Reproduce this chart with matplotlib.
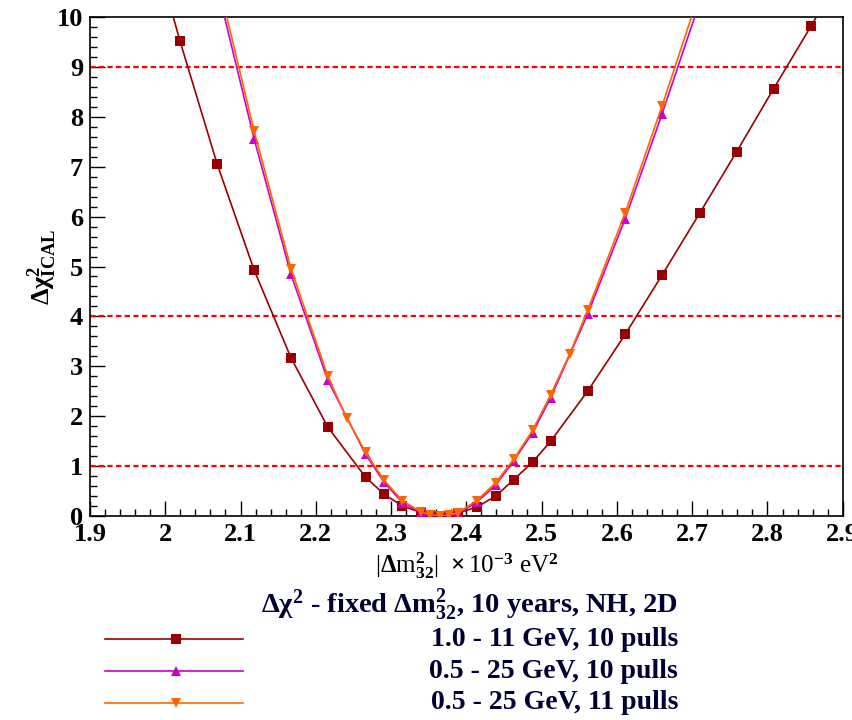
import matplotlib
matplotlib.use("Agg")
import matplotlib.pyplot as plt
from matplotlib.lines import Line2D
from matplotlib.ticker import MultipleLocator

plt.rcParams['font.family'] = ['Liberation Serif', 'DejaVu Serif']
plt.rcParams['font.weight'] = 'bold'
plt.rcParams['mathtext.fontset'] = 'custom'
plt.rcParams['mathtext.rm'] = 'Liberation Serif:bold'
plt.rcParams['mathtext.it'] = 'Liberation Serif:italic:bold'
plt.rcParams['mathtext.bf'] = 'Liberation Serif:bold'
plt.rcParams['mathtext.default'] = 'rm'

# ---------------- data ----------------
x_a = [1.970, 2.0195, 2.069, 2.118, 2.167, 2.216, 2.266, 2.2905, 2.315, 2.340, 2.352,
       2.365, 2.377, 2.389, 2.414, 2.439, 2.463, 2.488, 2.512, 2.561, 2.611, 2.660,
       2.710, 2.759, 2.808, 2.858, 2.907]
y_a = [12.2, 9.52, 7.05, 4.93, 3.17, 1.78, 0.78, 0.44, 0.20, 0.07, 0.02,
       0.0, 0.01, 0.06, 0.18, 0.40, 0.73, 1.08, 1.50, 2.50, 3.64, 4.83,
       6.07, 7.30, 8.56, 9.82, 11.1]

x_b = [2.069, 2.118, 2.167, 2.216, 2.266, 2.2905, 2.315, 2.340, 2.352, 2.365, 2.377,
       2.389, 2.414, 2.439, 2.463, 2.488, 2.512, 2.561, 2.611, 2.660, 2.710]
y_b = [10.6, 7.56, 4.84, 2.72, 1.24, 0.68, 0.27, 0.06, 0.01, 0.0, 0.01,
       0.05, 0.28, 0.62, 1.11, 1.67, 2.37, 4.04, 5.96, 8.06, 10.3]

x_c = [2.069, 2.118, 2.167, 2.216, 2.241, 2.266, 2.2905, 2.315, 2.340, 2.352, 2.365,
       2.377, 2.389, 2.414, 2.439, 2.463, 2.488, 2.512, 2.537, 2.561, 2.611, 2.660, 2.710]
y_c = [10.8, 7.72, 4.96, 2.80, 1.96, 1.28, 0.72, 0.31, 0.08, 0.03, 0.0,
       0.02, 0.07, 0.31, 0.67, 1.14, 1.72, 2.43, 3.24, 4.12, 6.08, 8.22, 10.5]

ref_levels = [1, 4, 9]

x_ticks = [1.9, 2.0, 2.1, 2.2, 2.3, 2.4, 2.5, 2.6, 2.7, 2.8, 2.9]
x_ticklabels = ["1.9", "2", "2.1", "2.2", "2.3", "2.4", "2.5", "2.6", "2.7", "2.8", "2.9"]
y_ticks = list(range(11))

labels = ["1.0 - 11 GeV, 10 pulls", "0.5 - 25 GeV, 10 pulls", "0.5 - 25 GeV, 11 pulls"]
legend_title = r"$\Delta\chi^{2}$ - fixed $\Delta$m$^{2}_{32}$, 10 years, NH, 2D"

c_a = "#990000"
c_b = "#cc00cc"
c_c = "#ff6600"

# ---------------- figure ----------------
fig = plt.figure(figsize=(8.53, 7.2), dpi=100)
ax = fig.add_axes([0.1055, 0.2833, 0.8825, 0.6931])

ax.plot(x_a, y_a, color=c_a, lw=1.2, marker='s', ms=7, mew=0, zorder=3)
ax.plot(x_b, y_b, color=c_b, lw=1.2, marker='^', ms=7.5, mew=0, zorder=3)
ax.plot(x_c, y_c, color=c_c, lw=1.2, marker='v', ms=7.5, mew=0, zorder=4)

for lv in ref_levels:
    ax.axhline(lv, color='#ff0000', lw=1.6, dashes=(2.4, 1.5), zorder=2)

ax.set_xlim(1.9, 2.9)
ax.set_ylim(0, 10)
ax.xaxis.set_minor_locator(MultipleLocator(0.02))
ax.yaxis.set_minor_locator(MultipleLocator(0.2))
ax.tick_params(which='both', direction='in', top=False, right=False, width=1.0)
ax.tick_params(which='major', length=10.5, labelsize=19, pad=5)
ax.tick_params(which='minor', length=5.2)
ax.set_xticks(x_ticks)
ax.set_xticklabels(x_ticklabels, fontweight='bold')
ax.set_yticks(y_ticks)
ax.set_yticklabels([str(i) for i in y_ticks], fontweight='bold')
for sp in ax.spines.values():
    sp.set_linewidth(1.2)

ax.set_xlabel(r"|$\Delta$m$^{2}_{32}$|  $\times\,$10$^{-3}$ eV$^{2}$", fontsize=18, labelpad=3)
ax.set_ylabel(r"$\Delta\chi^{2}_{\mathrm{ICAL}}$", fontsize=19, labelpad=-2)

# ---------------- legend (manual, ROOT-style) ----------------
fig.text(0.795, 0.160, legend_title, ha='right', va='center', fontsize=20.5, color='#000033')
ys = [0.112, 0.068, 0.024]
for lab, col, mk, yy in zip(labels, [c_a, c_b, c_c], ['s', '^', 'v'], ys):
    fig.add_artist(Line2D([0.123, 0.285], [yy, yy], transform=fig.transFigure,
                          color=col, lw=1.2))
    fig.add_artist(Line2D([0.206], [yy], transform=fig.transFigure,
                          color=col, marker=mk, ms=7, mew=0, ls='none'))
    fig.text(0.795, yy, lab, ha='right', va='center', fontsize=20, color='#000033')

fig.savefig("out.png", dpi=100)
